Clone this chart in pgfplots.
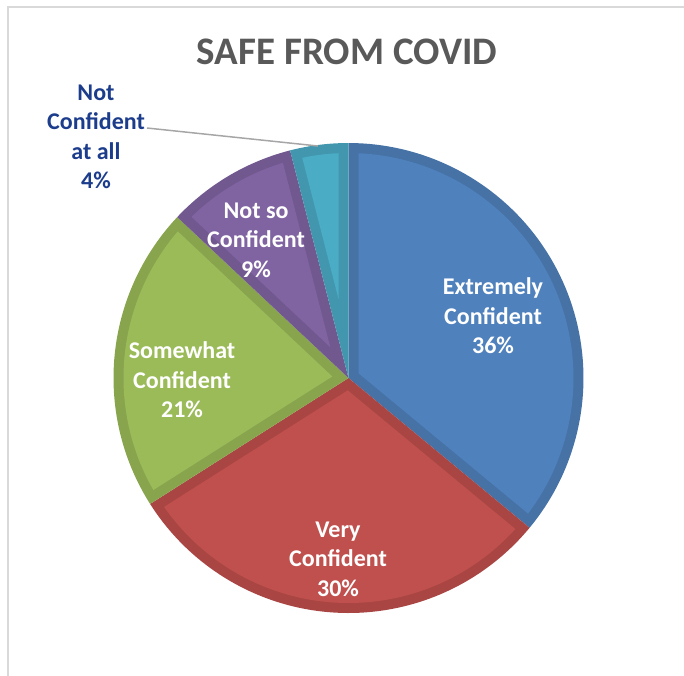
\documentclass[border=0pt]{standalone}
\usepackage{pgfplots}
\pgfplotsset{compat=1.18}
\usepackage{pgfplotstable}
\usepackage{fontspec}
\setmainfont{Carlito}
\definecolor{cblue}{HTML}{4F81BD}
\definecolor{cred}{HTML}{C0504D}
\definecolor{cgreen}{HTML}{9BBB59}
\definecolor{cpurple}{HTML}{8064A2}
\definecolor{cteal}{HTML}{4BACC6}
\colorlet{dblue}{cblue!88!black}
\colorlet{dred}{cred!88!black}
\colorlet{dgreen}{cgreen!88!black}
\colorlet{dpurple}{cpurple!88!black}
\colorlet{dteal}{cteal!88!black}
\definecolor{labelblue}{HTML}{1C3C8C}
\definecolor{titlegray}{HTML}{595959}

\pgfplotstableread{
value fillc darkc
36 cblue dblue
30 cred dred
21 cgreen dgreen
9 cpurple dpurple
4 cteal dteal
}\piedata

\def\cx{348.5}
\def\cy{378}
\def\R{235}
\def\d{10}

\begin{document}
\begin{tikzpicture}
\begin{axis}[scale only axis, width=684pt, height=675pt,
  xmin=0,xmax=684,ymin=0,ymax=675, y dir=reverse, hide axis, clip=false]
\def\cum{0}
\pgfplotstablegetrowsof{\piedata}
\pgfmathtruncatemacro\nlast{\pgfplotsretval-1}
\pgfplotsforeachungrouped \i in {0,...,\nlast}{%
  \pgfplotstablegetelem{\i}{value}\of\piedata \let\val\pgfplotsretval
  \pgfplotstablegetelem{\i}{fillc}\of\piedata \let\fc\pgfplotsretval
  \pgfplotstablegetelem{\i}{darkc}\of\piedata \let\dc\pgfplotsretval
  \pgfmathsetmacro\a{\cum*3.6}%
  \pgfmathsetmacro\b{(\cum+\val)*3.6}%
  \pgfmathsetmacro\cum{\cum+\val}%
  \pgfmathsetmacro\ri{\R-\d}%
  \pgfmathsetmacro\da{asin(\d/\ri)}%
  \pgfmathsetmacro\ai{\a+\da}%
  \pgfmathsetmacro\bi{\b-\da}%
  \pgfmathsetmacro\vd{\d/sin((\b-\a)/2)}%
  \pgfmathsetmacro\vx{\cx+\vd*sin((\a+\b)/2)}%
  \pgfmathsetmacro\vy{\cy-\vd*cos((\a+\b)/2)}%
  \edef\temp{%
   \noexpand\addplot[draw=none, fill=\dc, domain=\a:\b, samples=80, variable=\noexpand\t]
     ({\cx+\R*sin(\noexpand\t)},{\cy-\R*cos(\noexpand\t)}) -- (axis cs:\cx,\cy) -- cycle;
   \noexpand\addplot[draw=none, fill=\fc, domain=\ai:\bi, samples=80, variable=\noexpand\t]
     ({\cx+\ri*sin(\noexpand\t)},{\cy-\ri*cos(\noexpand\t)}) -- (axis cs:\vx,\vy) -- cycle;
  }\temp
}
\draw[color=black!15, line width=2pt] (axis cs:8,690) -- (axis cs:8,7) -- (axis cs:690,7);
\draw[color=black!35, line width=1.5pt] (axis cs:147,128) -- (axis cs:318,146);
\node[font=\fontsize{39}{47}\selectfont\bfseries, text=titlegray, inner sep=0pt] at (axis cs:347,52) {SAFE FROM COVID};
\node[font=\fontsize{24}{29.5}\selectfont\bfseries, text=white, align=center, inner sep=0pt] at (axis cs:493,316) {Extremely\\Confident\\36\%};
\node[font=\fontsize{24}{29.5}\selectfont\bfseries, text=white, align=center, inner sep=0pt] at (axis cs:338,559) {Very\\Confident\\30\%};
\node[font=\fontsize{24}{29.5}\selectfont\bfseries, text=white, align=center, inner sep=0pt] at (axis cs:182,380) {Somewhat\\Confident\\21\%};
\node[font=\fontsize{24}{29.5}\selectfont\bfseries, text=white, align=center, inner sep=0pt] at (axis cs:256,240) {Not so\\Confident\\9\%};
\node[font=\fontsize{24}{29.5}\selectfont\bfseries, text=labelblue, align=center, inner sep=0pt] at (axis cs:96,137) {Not\\Confident\\at all\\4\%};
\end{axis}
\pgfresetboundingbox
\useasboundingbox (current axis.south west) rectangle (current axis.north east);
\end{tikzpicture}
\end{document}
